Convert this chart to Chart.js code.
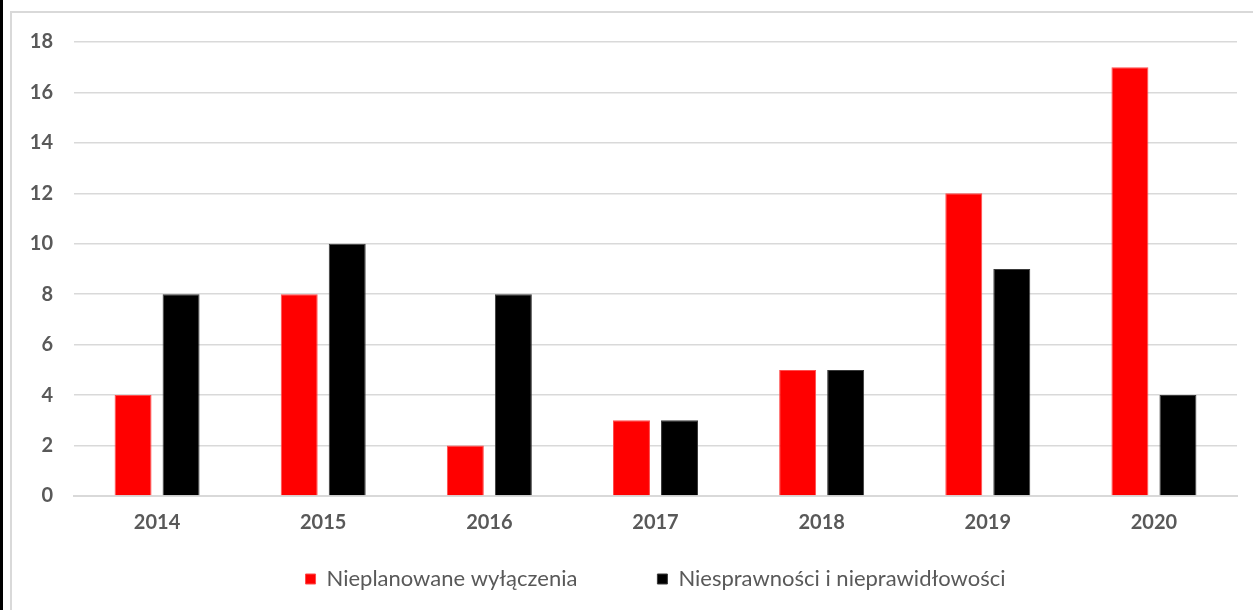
<!DOCTYPE html>
<html>
<head>
<meta charset="utf-8">
<script src="https://cdn.jsdelivr.net/npm/chart.js@4.4.1/dist/chart.umd.min.js"></script>
<style>
html,body{margin:0;padding:0;background:#fff;width:1253px;height:610px;overflow:hidden;}
#left{position:absolute;left:0;top:0;width:3px;height:610px;background:#000;}
#frame{position:absolute;left:10px;top:11px;width:1260px;height:620px;border-left:2px solid #d9d9d9;border-top:2px solid #d9d9d9;}
#wrap{position:absolute;left:0;top:0;width:1253px;height:610px;}
</style>
</head>
<body>
<div id="left"></div>
<div id="frame"></div>
<div id="wrap"><canvas id="c" width="1253" height="610"></canvas></div>
<script>
const categories = ['2014','2015','2016','2017','2018','2019','2020'];
const unplanned = [4, 8, 2, 3, 5, 12, 17];
const faults = [8, 10, 8, 3, 5, 9, 4];
const seriesNames = ['Nieplanowane wyłączenia', 'Niesprawności i nieprawidłowości'];

const font = 'Lato, "Open Sans", "DejaVu Sans", sans-serif';
const legendNudge = {
  id: 'legendNudge',
  afterLayout(chart) {
    const lg = chart.legend;
    if (lg) { lg.top -= 62; lg.bottom -= 62; }
  }
};
new Chart(document.getElementById('c'), {
  type: 'bar',
  data: {
    labels: categories,
    datasets: [
      {label: seriesNames[0], data: unplanned, backgroundColor: '#ff0000', borderColor: '#ff4d4d', borderWidth: 1, categoryPercentage: 0.578, barPercentage: 0.77},
      {label: seriesNames[1], data: faults, backgroundColor: '#000000', borderColor: '#3a3a3a', borderWidth: 1, categoryPercentage: 0.578, barPercentage: 0.77}
    ]
  },
  options: {
    responsive: false,
    animation: false,
    layout: {padding: {left: 0, right: 16, top: 42, bottom: -52}},
    scales: {
      x: {
        grid: {display: false, drawTicks: false},
        border: {display: true, color: '#d9d9d9', width: 2},
        ticks: {color: '#595959', font: {family: font, size: 20, weight: 'bold'}, padding: 15}
      },
      y: {
        min: 0, max: 18,
        afterFit: (s) => { s.width = 74; },
        ticks: {stepSize: 2, color: '#595959', font: {family: font, size: 20, weight: 'bold'}, padding: 21},
        grid: {color: '#d9d9d9', lineWidth: 1.5, drawTicks: false},
        border: {display: false}
      }
    },
    plugins: {
      legend: {
        position: 'bottom',
        fullSize: false,
        labels: {
          boxWidth: 10, boxHeight: 10, padding: 80,
          color: '#595959', font: {family: font, size: 22}
        }
      },
      tooltip: {enabled: false}
    }
  },
  plugins: [legendNudge]
});
</script>
</body>
</html>
